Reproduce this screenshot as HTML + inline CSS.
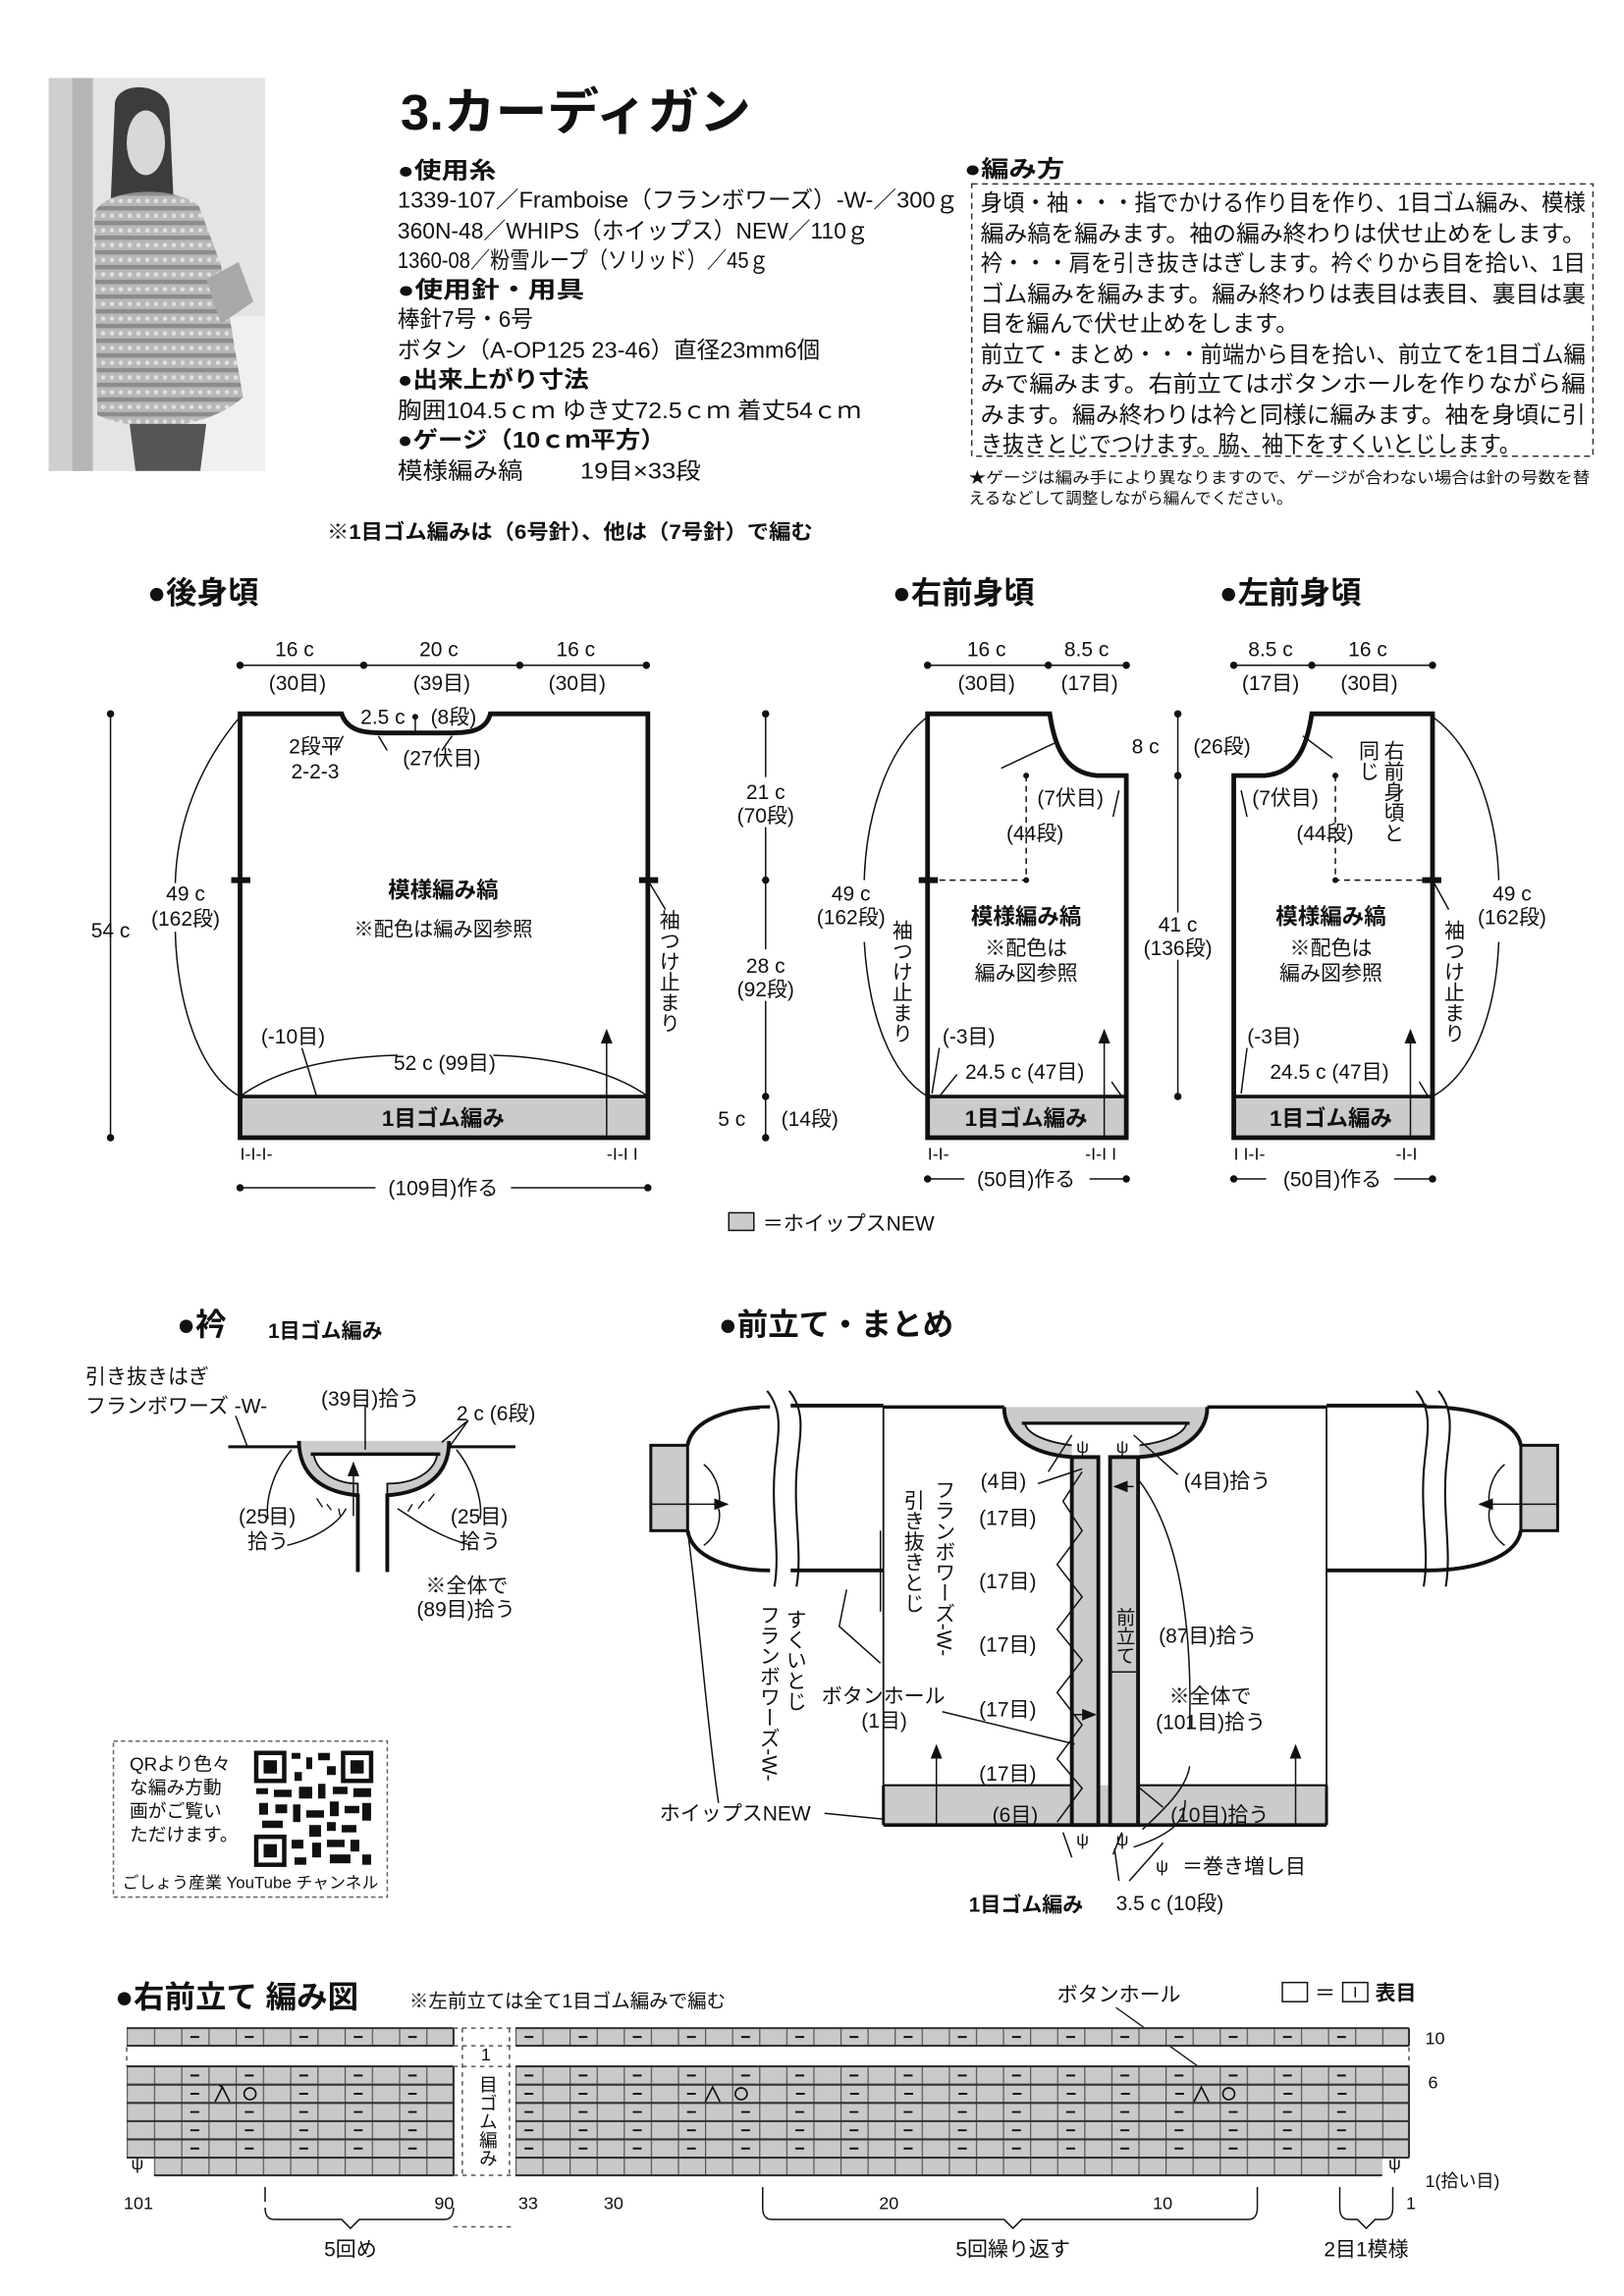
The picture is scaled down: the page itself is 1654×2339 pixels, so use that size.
<!DOCTYPE html>
<html><head><meta charset="utf-8">
<style>
html,body{margin:0;padding:0;background:#fff}
svg{display:block}
text{font-family:"Liberation Sans","Noto Sans CJK JP",sans-serif;fill:#111}
.b{font-weight:bold}
.s14{font-size:14px}.s13{font-size:13px}.s12{font-size:12px}.s15{font-size:15.5px}
.v{writing-mode:vertical-rl}
</style></head><body>
<svg width="1654" height="2339" viewBox="0 0 1103 1560" xmlns="http://www.w3.org/2000/svg">
<defs>
<marker id="ar" viewBox="0 0 10 8" refX="9" refY="4" markerWidth="10" markerHeight="8" orient="auto" markerUnits="userSpaceOnUse"><path d="M0,0 L10,4 L0,8 Z" fill="#111"/></marker>
<pattern id="gL" x="86" y="0" width="18.5" height="10" patternUnits="userSpaceOnUse"><rect width="18.5" height="10" fill="#c9c9c9"/><rect width="0.8" height="10" fill="#555"/></pattern>
<pattern id="gR" x="350" y="0" width="18.4" height="10" patternUnits="userSpaceOnUse"><rect width="18.4" height="10" fill="#c9c9c9"/><rect width="0.8" height="10" fill="#555"/></pattern>
<pattern id="sw" x="0" y="0" width="12" height="10" patternUnits="userSpaceOnUse"><rect width="12" height="10" fill="#b8b8b8"/><rect y="0" width="12" height="3" fill="#8c8c8c"/><circle cx="4" cy="6.5" r="1.5" fill="#e0e0e0"/><circle cx="10" cy="6.5" r="1.5" fill="#e0e0e0"/></pattern>
</defs>

<!-- photo -->
<rect x="33" y="53" width="147" height="267" fill="#e4e4e4"/>
<rect x="33" y="53" width="16" height="267" fill="#cfcfcf"/>
<rect x="49" y="53" width="14" height="267" fill="#b5b5b5"/>
<rect x="120" y="215" width="60" height="105" fill="#f0f0f0"/>
<path d="M78,70 C80,55 112,55 115,75 L118,140 L75,140 Z" fill="#3c3c3c"/>
<ellipse cx="99" cy="97" rx="13" ry="22" fill="#d8d8d8"/>
<path d="M64,145 C70,128 118,125 135,140 L150,180 L165,270 C140,292 95,295 66,282 Z" fill="url(#sw)"/>
<path d="M140,190 L162,178 L172,205 L150,220 Z" fill="#a8a8a8"/>
<path d="M88,288 L140,288 L136,320 L92,320 Z" fill="#555"/>

<!-- title & specs -->
<text x="272" y="88" class="b" font-size="34" textLength="238" lengthAdjust="spacingAndGlyphs">3.カーディガン</text>
<g class="s15">
<text x="270" y="121" class="b" textLength="67" lengthAdjust="spacingAndGlyphs">●使用糸</text>
<text x="270" y="141" textLength="381" lengthAdjust="spacingAndGlyphs">1339-107／Framboise（フランボワーズ）-W-／300ｇ</text>
<text x="270" y="162" textLength="320" lengthAdjust="spacingAndGlyphs">360N-48／WHIPS（ホイップス）NEW／110ｇ</text>
<text x="270" y="182" textLength="252" lengthAdjust="spacingAndGlyphs">1360-08／粉雪ループ（ソリッド）／45ｇ</text>
<text x="270" y="202" class="b" textLength="127" lengthAdjust="spacingAndGlyphs">●使用針・用具</text>
<text x="270" y="222" textLength="92" lengthAdjust="spacingAndGlyphs">棒針7号・6号</text>
<text x="270" y="243" textLength="287" lengthAdjust="spacingAndGlyphs">ボタン（A-OP125 23-46）直径23mm6個</text>
<text x="270" y="263" class="b" textLength="130" lengthAdjust="spacingAndGlyphs">●出来上がり寸法</text>
<text x="270" y="284" textLength="315" lengthAdjust="spacingAndGlyphs">胸囲104.5ｃｍ ゆき丈72.5ｃｍ 着丈54ｃｍ</text>
<text x="270" y="304" class="b" textLength="182" lengthAdjust="spacingAndGlyphs">●ゲージ（10ｃｍ平方）</text>
<text x="270" y="325" textLength="206" lengthAdjust="spacingAndGlyphs">模様編み縞　　 19目×33段</text>
<text x="655" y="120" class="b" textLength="68" lengthAdjust="spacingAndGlyphs">●編み方</text>
</g>
<rect x="660" y="125" width="422" height="185" fill="none" stroke="#333" stroke-dasharray="4 3"/>
<g class="s15">
<text x="666" y="143" textLength="411" lengthAdjust="spacingAndGlyphs">身頃・袖・・・指でかける作り目を作り、1目ゴム編み、模様</text>
<text x="666" y="164" textLength="411" lengthAdjust="spacingAndGlyphs">編み縞を編みます。袖の編み終わりは伏せ止めをします。</text>
<text x="666" y="184" textLength="411" lengthAdjust="spacingAndGlyphs">衿・・・肩を引き抜きはぎします。衿ぐりから目を拾い、1目</text>
<text x="666" y="205" textLength="411" lengthAdjust="spacingAndGlyphs">ゴム編みを編みます。編み終わりは表目は表目、裏目は裏</text>
<text x="666" y="225" textLength="216" lengthAdjust="spacingAndGlyphs">目を編んで伏せ止めをします。</text>
<text x="666" y="246" textLength="411" lengthAdjust="spacingAndGlyphs">前立て・まとめ・・・前端から目を拾い、前立てを1目ゴム編</text>
<text x="666" y="266" textLength="411" lengthAdjust="spacingAndGlyphs">みで編みます。右前立てはボタンホールを作りながら編</text>
<text x="666" y="287" textLength="411" lengthAdjust="spacingAndGlyphs">みます。編み終わりは衿と同様に編みます。袖を身頃に引</text>
<text x="666" y="307" textLength="367" lengthAdjust="spacingAndGlyphs">き抜きとじでつけます。脇、袖下をすくいとじします。</text>
</g>
<text x="658" y="328" font-size="10.5" textLength="422" lengthAdjust="spacingAndGlyphs">★ゲージは編み手により異なりますので、ゲージが合わない場合は針の号数を替</text>
<text x="658" y="342" font-size="10.5" textLength="220" lengthAdjust="spacingAndGlyphs">えるなどして調整しながら編んでください。</text>
<text x="222" y="366" class="b s14" textLength="330" lengthAdjust="spacingAndGlyphs">※1目ゴム編みは（6号針）、他は（7号針）で編む</text>

<!-- section headings -->
<g class="b" font-size="21">
<text x="100" y="410">●後身頃</text>
<text x="606" y="410">●右前身頃</text>
<text x="828" y="410">●左前身頃</text>
<text x="120" y="907">●衿</text>
<text x="488" y="907">●前立て・まとめ</text>
<text x="78" y="1364">●右前立て 編み図</text>
</g>
<text x="182" y="909" class="b s14">1目ゴム編み</text>
<text x="278" y="1364" class="s13">※左前立ては全て1目ゴム編みで編む</text>

<g stroke="#111" fill="none">
<!-- ===== BACK ===== -->
<line x1="163" y1="452" x2="440" y2="452"/>
<line x1="75" y1="485" x2="75" y2="773"/>
<line x1="163" y1="807" x2="255" y2="807"/><line x1="347" y1="807" x2="440" y2="807"/>
<rect x="163" y="745" width="277" height="28" fill="#cbcbcb" stroke="none"/>
<path d="M163,773 V485 H232 C236,497 248,498 260,498 H305 C318,498 330,497 333,485 H440 V773 Z" stroke-width="3.2"/>
<line x1="163" y1="745" x2="440" y2="745" stroke-width="2.4"/>
<line x1="157" y1="598" x2="170" y2="598" stroke-width="4"/>
<line x1="434" y1="598" x2="447" y2="598" stroke-width="4"/>
<path d="M163,487 C135,520 120,560 119,600 M119,633 C120,680 135,730 163,745"/>
<path d="M163,745 C190,725 230,718 270,717 M335,717 C380,718 420,730 440,745"/>
<line x1="205" y1="712" x2="215" y2="745"/>
<line x1="412" y1="773" x2="412" y2="700" marker-end="url(#ar)"/>
<line x1="440" y1="598" x2="452" y2="618"/>
<line x1="233" y1="500" x2="228" y2="510"/>
<path d="M257,500 L263,510 M307,500 L300,510"/>
<line x1="282" y1="487" x2="282" y2="498"/>

<!-- ===== RIGHT FRONT ===== -->
<line x1="630" y1="452" x2="765" y2="452"/>
<line x1="520" y1="485" x2="520" y2="528"/><line x1="520" y1="562" x2="520" y2="645"/><line x1="520" y1="680" x2="520" y2="773"/>
<line x1="630" y1="801" x2="655" y2="801"/><line x1="740" y1="801" x2="765" y2="801"/>
<rect x="630" y="745" width="135" height="28" fill="#cbcbcb" stroke="none"/>
<path d="M630,773 V485 H713 C716,505 722,525 745,527 H765 V773 Z" stroke-width="3.2"/>
<line x1="630" y1="745" x2="765" y2="745" stroke-width="2.4"/>
<line x1="624" y1="598" x2="637" y2="598" stroke-width="4"/>
<path d="M697,527 V598 H637" stroke-dasharray="4 3"/>
<path d="M630,487 C600,510 588,560 587,598 M587,640 C590,690 605,730 630,745"/>
<line x1="680" y1="522" x2="716" y2="505"/>
<line x1="638" y1="712" x2="633" y2="743"/>
<line x1="760" y1="537" x2="756" y2="555"/>
<line x1="750" y1="773" x2="750" y2="700" marker-end="url(#ar)"/>
<line x1="650" y1="730" x2="638" y2="745"/>
<line x1="755" y1="735" x2="762" y2="745"/>

<!-- ===== LEFT FRONT ===== -->
<line x1="838" y1="452" x2="973" y2="452"/>
<line x1="800" y1="485" x2="800" y2="620"/><line x1="800" y1="652" x2="800" y2="745"/>
<line x1="838" y1="801" x2="860" y2="801"/><line x1="947" y1="801" x2="973" y2="801"/>
<rect x="838" y="745" width="135" height="28" fill="#cbcbcb" stroke="none"/>
<path d="M973,773 V485 H891 C888,505 882,525 859,527 H838 V773 Z" stroke-width="3.2"/>
<line x1="838" y1="745" x2="973" y2="745" stroke-width="2.4"/>
<line x1="966" y1="598" x2="979" y2="598" stroke-width="4"/>
<path d="M907,527 V598 H966" stroke-dasharray="4 3"/>
<path d="M973,487 C1005,510 1017,560 1018,598 M1018,640 C1016,690 1000,730 973,745"/>
<line x1="885" y1="500" x2="905" y2="515"/>
<line x1="843" y1="537" x2="847" y2="555"/>
<line x1="958" y1="773" x2="958" y2="700" marker-end="url(#ar)"/>
<line x1="847" y1="712" x2="843" y2="743"/>
<line x1="964" y1="735" x2="970" y2="745"/>
<line x1="973" y1="598" x2="984" y2="618"/>
</g>
<!-- dots -->
<g fill="#111">
<circle cx="163" cy="452" r="2.5"/><circle cx="247" cy="452" r="2.5"/><circle cx="353" cy="452" r="2.5"/><circle cx="439" cy="452" r="2.5"/>
<circle cx="75" cy="485" r="2.5"/><circle cx="75" cy="773" r="2.5"/>
<circle cx="163" cy="807" r="2.5"/><circle cx="440" cy="807" r="2.5"/><circle cx="282" cy="487" r="2"/>
<circle cx="630" cy="452" r="2.5"/><circle cx="712" cy="452" r="2.5"/><circle cx="765" cy="452" r="2.5"/>
<circle cx="520" cy="485" r="2.5"/><circle cx="520" cy="598" r="2.5"/><circle cx="520" cy="745" r="2.5"/><circle cx="520" cy="773" r="2.5"/>
<circle cx="630" cy="801" r="2.5"/><circle cx="765" cy="801" r="2.5"/><circle cx="697" cy="527" r="2"/><circle cx="697" cy="598" r="2"/>
<circle cx="838" cy="452" r="2.5"/><circle cx="891" cy="452" r="2.5"/><circle cx="973" cy="452" r="2.5"/>
<circle cx="800" cy="485" r="2.5"/><circle cx="800" cy="527" r="2.5"/><circle cx="800" cy="745" r="2.5"/>
<circle cx="838" cy="801" r="2.5"/><circle cx="973" cy="801" r="2.5"/><circle cx="907" cy="527" r="2"/><circle cx="907" cy="598" r="2"/>
</g>
<g class="s14" text-anchor="middle">
<text x="200" y="446">16 c</text><text x="298" y="446">20 c</text><text x="391" y="446">16 c</text>
<text x="202" y="469">(30目)</text><text x="300" y="469">(39目)</text><text x="392" y="469">(30目)</text>
<text x="75" y="637">54 c</text>
<text x="126" y="612">49 c</text><text x="126" y="629">(162段)</text>
<text x="260" y="492">2.5 c</text><text x="308" y="492">(8段)</text>
<text x="214" y="512">2段平</text><text x="214" y="529">2-2-3</text>
<text x="300" y="520">(27伏目)</text>
<text x="301" y="610" class="b" font-size="15">模様編み縞</text>
<text x="301" y="636" font-size="13.5">※配色は編み図参照</text>
<text x="199" y="709">(-10目)</text>
<text x="302" y="727">52 c (99目)</text>
<text x="301" y="765" class="b" font-size="15">1目ゴム編み</text>
<text x="301" y="812">(109目)作る</text>
<text x="670" y="446">16 c</text><text x="738" y="446">8.5 c</text>
<text x="670" y="469">(30目)</text><text x="740" y="469">(17目)</text>
<text x="520" y="543">21 c</text><text x="520" y="559">(70段)</text>
<text x="520" y="661">28 c</text><text x="520" y="677">(92段)</text>
<text x="497" y="765">5 c</text><text x="550" y="765">(14段)</text>
<text x="727" y="547">(7伏目)</text><text x="703" y="571">(44段)</text>
<text x="578" y="612">49 c</text><text x="578" y="628">(162段)</text>
<text x="697" y="628" class="b" font-size="15">模様編み縞</text>
<text x="697" y="649">※配色は</text><text x="697" y="666">編み図参照</text>
<text x="658" y="709">(-3目)</text><text x="696" y="733">24.5 c (47目)</text>
<text x="697" y="765" class="b" font-size="15">1目ゴム編み</text>
<text x="697" y="806">(50目)作る</text>
<text x="863" y="446">8.5 c</text><text x="929" y="446">16 c</text>
<text x="863" y="469">(17目)</text><text x="930" y="469">(30目)</text>
<text x="778" y="512">8 c</text><text x="830" y="512">(26段)</text>
<text x="800" y="633">41 c</text><text x="800" y="649">(136段)</text>
<text x="873" y="547">(7伏目)</text><text x="900" y="571">(44段)</text>
<text x="1027" y="612">49 c</text><text x="1027" y="628">(162段)</text>
<text x="904" y="628" class="b" font-size="15">模様編み縞</text>
<text x="904" y="649">※配色は</text><text x="904" y="666">編み図参照</text>
<text x="865" y="709">(-3目)</text><text x="903" y="733">24.5 c (47目)</text>
<text x="904" y="765" class="b" font-size="15">1目ゴム編み</text>
<text x="905" y="806">(50目)作る</text>
</g>
<g class="s12">
<text x="163" y="788">I-I-I-</text><text x="412" y="788">-I-I I</text>
<text x="630" y="788">I-I-</text><text x="737" y="788">-I-I I</text>
<text x="838" y="788">I I-I-</text><text x="948" y="788">-I-I</text>
</g>
<g class="s14 v">
<text x="454" y="618">袖つけ止まり</text>
<text x="612" y="625">袖つけ止まり</text>
<text x="987" y="625">袖つけ止まり</text>
<text x="946" y="503">右前身頃と</text>
<text x="929" y="503">同じ</text>
</g>
<rect x="495" y="824" width="17" height="12" fill="#cbcbcb" stroke="#111"/>
<text x="518" y="836" class="s14">＝ホイップスNEW</text>

<!-- ===== COLLAR ===== -->
<g stroke="#111" fill="none">
<line x1="155" y1="983" x2="350" y2="983" stroke-width="2"/>
<path d="M203,979 C203,1003 220,1014 243,1016 L243,1008 C228,1008 215,1000 213,988 L297,988 C295,1000 282,1008 263,1008 L263,1016 C288,1014 305,1003 305,979 Z" fill="#cbcbcb" stroke="none"/>
<path d="M203,979 C203,1003 220,1014 243,1016 V1068 M305,979 C305,1003 288,1014 263,1016 V1068" stroke-width="2.6"/>
<path d="M213,988 C215,1000 228,1008 243,1008 V1068 M297,988 C295,1000 282,1008 263,1008 V1068" stroke-width="1.2"/>
<line x1="211" y1="988" x2="299" y2="988" stroke-width="2.4"/>
<line x1="240" y1="1030" x2="240" y2="994" marker-end="url(#ar)"/>
<line x1="160" y1="962" x2="168" y2="983"/>
<line x1="248" y1="955" x2="248" y2="985"/>
<path d="M318,965 L300,980 M318,965 L306,982"/>
<path d="M198,985 C185,1000 180,1020 182,1032 M310,985 C322,1000 328,1020 326,1032"/>
<path d="M195,1050 C215,1045 230,1035 235,1025 M320,1050 C300,1045 285,1035 270,1025"/>
<path d="M215,1018 l4,6 M222,1022 l3,4 M230,1025 l1,5 M280,1022 l-3,5 M288,1020 l-4,5 M295,1015 l-4,5" stroke-width="0.9"/>
</g>
<g class="s14">
<text x="58" y="940">引き抜きはぎ</text>
<text x="58" y="960">フランボワーズ -W-</text>
<text x="218" y="955">(39目)拾う</text>
<text x="310" y="965">2 c (6段)</text>
<text x="162" y="1035">(25目)</text><text x="168" y="1052">拾う</text>
<text x="306" y="1035">(25目)</text><text x="312" y="1052">拾う</text>
<text x="289" y="1082">※全体で</text><text x="283" y="1098">(89目)拾う</text>
</g>

<!-- ===== FRONT BAND / MAKING ===== -->
<g stroke="#111" fill="none">
<path d="M523,956 C495,956 470,965 467,982 M523,1067 C495,1067 470,1058 467,1040" stroke-width="2.6"/>
<rect x="442" y="982" width="25" height="58" fill="#cbcbcb" stroke-width="2"/>
<line x1="442" y1="1022" x2="494" y2="1022" marker-end="url(#ar)"/>
<path d="M478,995 C488,1003 490,1018 488,1022 M478,1050 C488,1043 490,1030 488,1025"/>
<path d="M969,956 C1002,956 1030,965 1033,982 M969,1067 C1002,1067 1030,1058 1033,1040" stroke-width="2.6"/>
<rect x="1033" y="982" width="25" height="58" fill="#cbcbcb" stroke-width="2"/>
<line x1="1058" y1="1022" x2="1005" y2="1022" marker-end="url(#ar)"/>
<path d="M1022,995 C1012,1003 1010,1018 1012,1022 M1022,1050 C1012,1043 1010,1030 1012,1025"/>
<line x1="537" y1="955" x2="600" y2="955" stroke-width="2.6"/>
<line x1="537" y1="1067" x2="600" y2="1067" stroke-width="2.6"/>
<line x1="901" y1="955" x2="969" y2="955" stroke-width="2.6"/>
<line x1="901" y1="1067" x2="969" y2="1067" stroke-width="2.6"/>
<rect x="516" y="957" width="22" height="108" fill="#fff" stroke="none"/>
<rect x="962" y="957" width="22" height="108" fill="#fff" stroke="none"/>
<path d="M521,945 C533,960 528,975 526,1000 C524,1030 530,1055 526,1078 M536,945 C548,960 543,975 541,1000 C539,1030 545,1055 541,1078" stroke-width="1.4"/>
<path d="M962,945 C974,960 969,975 967,1000 C965,1030 971,1055 967,1078 M977,945 C989,960 984,975 982,1000 C980,1030 986,1055 982,1078" stroke-width="1.4"/>
<line x1="600" y1="956" x2="600" y2="1240" stroke-width="1.2"/>
<line x1="901" y1="956" x2="901" y2="1240" stroke-width="1.2"/>
<line x1="600" y1="956" x2="682" y2="956" stroke-width="2.4"/>
<line x1="820" y1="956" x2="901" y2="956" stroke-width="2.4"/>
<rect x="600" y="1213" width="301" height="27" fill="#cbcbcb" stroke="none"/>
<line x1="600" y1="1213" x2="728" y2="1213" stroke-width="1.4"/>
<line x1="774" y1="1213" x2="901" y2="1213" stroke-width="1.4"/>
<line x1="600" y1="1240" x2="901" y2="1240" stroke-width="2.4"/>
<line x1="600" y1="1213" x2="600" y2="1240" stroke-width="2"/><line x1="901" y1="1213" x2="901" y2="1240" stroke-width="2"/>
<line x1="636" y1="1240" x2="636" y2="1186" marker-end="url(#ar)"/>
<line x1="880" y1="1240" x2="880" y2="1186" marker-end="url(#ar)"/>
<path d="M682,956 C682,975 700,988 728,990 L728,982 C712,980 698,975 696,967 L806,967 C804,975 790,980 774,982 L774,990 C802,988 820,975 820,956 Z" fill="#cbcbcb" stroke="none"/>
<path d="M682,956 C682,975 700,988 728,990 M820,956 C820,975 802,988 774,990" stroke-width="2.6"/>
<path d="M696,967 C698,975 712,980 728,982 M806,967 C804,975 790,980 774,982" stroke-width="1.2"/>
<line x1="694" y1="967" x2="808" y2="967" stroke-width="2.2"/>
<rect x="728" y="990" width="18" height="250" fill="#cbcbcb" stroke-width="2.6"/>
<rect x="754" y="990" width="19" height="250" fill="#cbcbcb" stroke-width="2.6"/>
<line x1="770" y1="1010" x2="757" y2="1010" marker-end="url(#ar)"/>
<line x1="730" y1="1165" x2="744" y2="1165" marker-end="url(#ar)"/>
<line x1="754" y1="1136" x2="773" y2="1136" stroke-width="1"/>
<polyline points="735,1000 722,1020 735,1040 718,1063 735,1085 718,1107 735,1128 718,1150 735,1172 718,1195 735,1215 718,1238" stroke-width="1"/>
<line x1="705" y1="1008" x2="735" y2="998"/>
<path d="M728,975 L712,1000"/>
<path d="M770,975 L800,1002"/>
<line x1="640" y1="1163" x2="730" y2="1185"/>
<line x1="560" y1="1232" x2="600" y2="1236"/>
<line x1="773" y1="1214" x2="790" y2="1228"/>
<path d="M598,1040 L598,1095"/>
<path d="M575,1080 L570,1105 L598,1130"/>
<path d="M467,1040 C475,1100 480,1170 488,1225"/>
<path d="M773,1005 C800,1040 810,1100 808,1175 M808,1200 C806,1215 790,1230 776,1243"/>
<path d="M728,1262 L722,1245 M756,1260 L762,1245 M760,1278 L757,1256 M767,1278 L790,1252 M770,1255 C800,1245 805,1235 805,1223"/>
</g>
<g class="s14">
<text x="666" y="1011">(4目)</text>
<text x="665" y="1036">(17目)</text><text x="665" y="1079">(17目)</text><text x="665" y="1122">(17目)</text>
<text x="665" y="1166">(17目)</text><text x="665" y="1210">(17目)</text>
<text x="674" y="1238">(6目)</text>
<text x="804" y="1011">(4目)拾う</text>
<text x="787" y="1116">(87目)拾う</text>
<text x="794" y="1157">※全体で</text><text x="785" y="1175">(101目)拾う</text>
<text x="795" y="1238">(10目)拾う</text>
<text x="558" y="1157">ボタンホール</text><text x="585" y="1174">(1目)</text>
<text x="448" y="1237">ホイップスNEW</text>
<text x="803" y="1273">＝巻き増し目</text>
<text x="658" y="1299" class="b">1目ゴム編み</text>
<text x="758" y="1298">3.5 c (10段)</text>
</g>
<g font-size="12"><text x="785" y="1272">ψ</text><text x="731" y="1254">ψ</text><text x="758" y="1254">ψ</text><text x="731" y="987">ψ</text><text x="758" y="987">ψ</text></g>
<g class="s14 v">
<text x="641" y="1005">フランボワーズ-W-</text>
<text x="620" y="1012">引き抜きとじ</text>
<text x="540" y="1093">すくいとじ</text>
<text x="522" y="1090">フランボワーズ-W-</text>
<text x="763" y="1092" font-size="13">前立て</text>
</g>

<!-- QR -->
<rect x="77" y="1183" width="186" height="106" fill="none" stroke="#666" stroke-dasharray="3 2"/>
<g font-size="12.5">
<text x="88" y="1203">QRより色々</text><text x="88" y="1219">な編み方動</text>
<text x="88" y="1235">画がご覧い</text><text x="88" y="1251">ただけます。</text>
</g>
<text x="83" y="1283" font-size="11" textLength="174" lengthAdjust="spacingAndGlyphs">ごしょう産業 YouTube チャンネル</text>
<g>
<rect x="173" y="1190" width="80" height="78" fill="#fff"/>
<rect x="174" y="1191" width="19" height="19" fill="none" stroke="#111" stroke-width="3"/><rect x="179" y="1196" width="9" height="9" fill="#111"/>
<rect x="233" y="1191" width="19" height="19" fill="none" stroke="#111" stroke-width="3"/><rect x="238" y="1196" width="9" height="9" fill="#111"/>
<rect x="174" y="1248" width="19" height="19" fill="none" stroke="#111" stroke-width="3"/><rect x="179" y="1253" width="9" height="9" fill="#111"/>
<g fill="#111">
<rect x="198" y="1191" width="6" height="4"/><rect x="208" y="1194" width="4" height="8"/><rect x="216" y="1191" width="8" height="5"/><rect x="222" y="1200" width="6" height="6"/>
<rect x="200" y="1204" width="5" height="6"/><rect x="174" y="1215" width="8" height="4"/><rect x="186" y="1216" width="12" height="5"/><rect x="203" y="1214" width="9" height="8"/>
<rect x="216" y="1212" width="5" height="10"/><rect x="226" y="1214" width="10" height="5"/><rect x="240" y="1215" width="12" height="6"/><rect x="176" y="1225" width="6" height="8"/>
<rect x="187" y="1226" width="8" height="6"/><rect x="199" y="1226" width="5" height="12"/><rect x="208" y="1230" width="12" height="5"/><rect x="224" y="1224" width="6" height="10"/>
<rect x="234" y="1227" width="10" height="5"/><rect x="246" y="1225" width="6" height="12"/><rect x="178" y="1237" width="14" height="5"/><rect x="210" y="1240" width="8" height="8"/>
<rect x="222" y="1238" width="6" height="6"/><rect x="232" y="1240" width="10" height="5"/><rect x="198" y="1250" width="8" height="6"/><rect x="212" y="1252" width="6" height="10"/>
<rect x="222" y="1250" width="12" height="5"/><rect x="238" y="1250" width="6" height="8"/><rect x="246" y="1260" width="6" height="7"/><rect x="200" y="1262" width="8" height="5"/><rect x="224" y="1260" width="14" height="6"/>
</g></g>

<!-- ===== CHART ===== -->
<text x="718" y="1360" class="s14">ボタンホール</text>
<line x1="758" y1="1364" x2="843" y2="1425" stroke="#111" stroke-width="0.9"/>
<rect x="871" y="1347" width="17" height="13" fill="#fff" stroke="#111"/>
<text x="893" y="1359" class="s14">＝</text>
<rect x="912" y="1347" width="17" height="13" fill="#fff" stroke="#111"/>
<line x1="920.5" y1="1350" x2="920.5" y2="1357" stroke="#111"/>
<text x="934" y="1359" class="s14 b">表目</text>

<g>
<rect x="86" y="1378" width="222" height="12" fill="url(#gL)"/>
<rect x="350" y="1378" width="607.2" height="12" fill="url(#gR)"/>
<rect x="86" y="1404" width="222" height="62" fill="url(#gL)"/>
<rect x="350" y="1404" width="607.2" height="62" fill="url(#gR)"/>
<rect x="104.5" y="1466" width="203.5" height="12" fill="url(#gL)"/>
<rect x="350" y="1466" width="588.8" height="12" fill="url(#gR)"/>
</g>
<g stroke="#333" stroke-width="1.4">
<line x1="86" y1="1378" x2="308" y2="1378"/><line x1="350" y1="1378" x2="957" y2="1378"/>
<line x1="86" y1="1390" x2="308" y2="1390"/><line x1="350" y1="1390" x2="957" y2="1390"/>
<line x1="86" y1="1404" x2="308" y2="1404"/><line x1="350" y1="1404" x2="957" y2="1404"/>
<line x1="86" y1="1416.4" x2="308" y2="1416.4"/><line x1="350" y1="1416.4" x2="957" y2="1416.4"/>
<line x1="86" y1="1428.8" x2="308" y2="1428.8"/><line x1="350" y1="1428.8" x2="957" y2="1428.8"/>
<line x1="86" y1="1441.2" x2="308" y2="1441.2"/><line x1="350" y1="1441.2" x2="957" y2="1441.2"/>
<line x1="86" y1="1453.6" x2="308" y2="1453.6"/><line x1="350" y1="1453.6" x2="957" y2="1453.6"/>
<line x1="86" y1="1466" x2="308" y2="1466"/><line x1="350" y1="1466" x2="957" y2="1466"/>
<line x1="104.5" y1="1478" x2="308" y2="1478"/><line x1="350" y1="1478" x2="938.8" y2="1478"/>
<line x1="957" y1="1378" x2="957" y2="1390"/><line x1="957" y1="1404" x2="957" y2="1466"/>
<line x1="308" y1="1378" x2="308" y2="1390"/><line x1="308" y1="1404" x2="308" y2="1478"/>
</g>
<g stroke="#555" stroke-width="1" stroke-dasharray="3 3">
<line x1="86" y1="1391" x2="86" y2="1404"/><line x1="957" y1="1391" x2="957" y2="1404"/>
<line x1="314" y1="1378" x2="314" y2="1478"/><line x1="346" y1="1378" x2="346" y2="1478"/>
<line x1="308" y1="1378" x2="350" y2="1378"/><line x1="308" y1="1390" x2="350" y2="1390"/>
<line x1="308" y1="1404" x2="350" y2="1404"/><line x1="308" y1="1478" x2="350" y2="1478"/>
<line x1="308" y1="1513" x2="350" y2="1513"/>
</g>
<g stroke="#111" stroke-width="1.3">
<line x1="129.25" y1="1384" x2="283" y2="1384" stroke-dasharray="6 31"/>
<line x1="356.2" y1="1384" x2="920" y2="1384" stroke-dasharray="6 30.8"/>
<line x1="129.25" y1="1410.2" x2="283" y2="1410.2" stroke-dasharray="6 31"/>
<line x1="356.2" y1="1410.2" x2="920" y2="1410.2" stroke-dasharray="6 30.8"/>
<line x1="129.25" y1="1422.6" x2="135.25" y2="1422.6"/>
<line x1="203.25" y1="1422.6" x2="283" y2="1422.6" stroke-dasharray="6 31"/>
<line x1="356.2" y1="1422.6" x2="477" y2="1422.6" stroke-dasharray="6 30.8"/>
<line x1="540.6" y1="1422.6" x2="808" y2="1422.6" stroke-dasharray="6 30.8"/>
<line x1="871.8" y1="1422.6" x2="920" y2="1422.6" stroke-dasharray="6 30.8"/>
<line x1="129.25" y1="1435" x2="283" y2="1435" stroke-dasharray="6 31"/>
<line x1="356.2" y1="1435" x2="920" y2="1435" stroke-dasharray="6 30.8"/>
<line x1="129.25" y1="1447.4" x2="283" y2="1447.4" stroke-dasharray="6 31"/>
<line x1="356.2" y1="1447.4" x2="920" y2="1447.4" stroke-dasharray="6 30.8"/>
<line x1="129.25" y1="1459.8" x2="283" y2="1459.8" stroke-dasharray="6 31"/>
<line x1="356.2" y1="1459.8" x2="920" y2="1459.8" stroke-dasharray="6 30.8"/>
</g>
<g stroke="#111" stroke-width="1.1" fill="none">
<path d="M146,1428 L151,1418 L156,1428 M151,1418 L149,1417"/>
<circle cx="169.75" cy="1422.6" r="4"/>
<path d="M479,1428 L484,1418 L489,1428"/>
<circle cx="503.4" cy="1422.6" r="4"/>
<path d="M811,1428 L816,1418 L821,1428"/>
<circle cx="834.6" cy="1422.6" r="4"/>
</g>
<text x="330" y="1400" font-size="12" text-anchor="middle">1</text>
<text x="331" y="1410" font-size="12.5" class="v">目ゴム編み</text>
<g font-size="12">
<text x="968" y="1389">10</text><text x="970" y="1419">6</text>
<text x="968" y="1486">1(拾い目)</text>
<text x="89" y="1474">ψ</text><text x="943" y="1474">ψ</text>
<text x="84" y="1501">101</text><text x="295" y="1501">90</text><text x="352" y="1501">33</text><text x="410" y="1501">30</text>
<text x="597" y="1501">20</text><text x="783" y="1501">10</text><text x="955" y="1501">1</text>
</g>
<g stroke="#111" fill="none" stroke-width="1">
<path d="M180,1486 V1496 M180,1500 C180,1505 182,1508 186,1508 H232 L238,1514 L244,1508 H302 C306,1508 308,1505 308,1500"/>
<path d="M518,1486 V1500 C518,1505 520,1508 524,1508 H682 L688,1514 L694,1508 H848 C852,1508 854,1505 854,1500 V1486"/>
<path d="M910,1486 V1500 C910,1505 912,1508 916,1508 H922 L928,1514 L934,1508 H940 C944,1508 946,1505 946,1500 V1486"/>
</g>
<g class="s14" text-anchor="middle">
<text x="238" y="1533">5回め</text>
<text x="688" y="1533">5回繰り返す</text>
<text x="928" y="1533">2目1模様</text>
</g>
</svg>
</body></html>
